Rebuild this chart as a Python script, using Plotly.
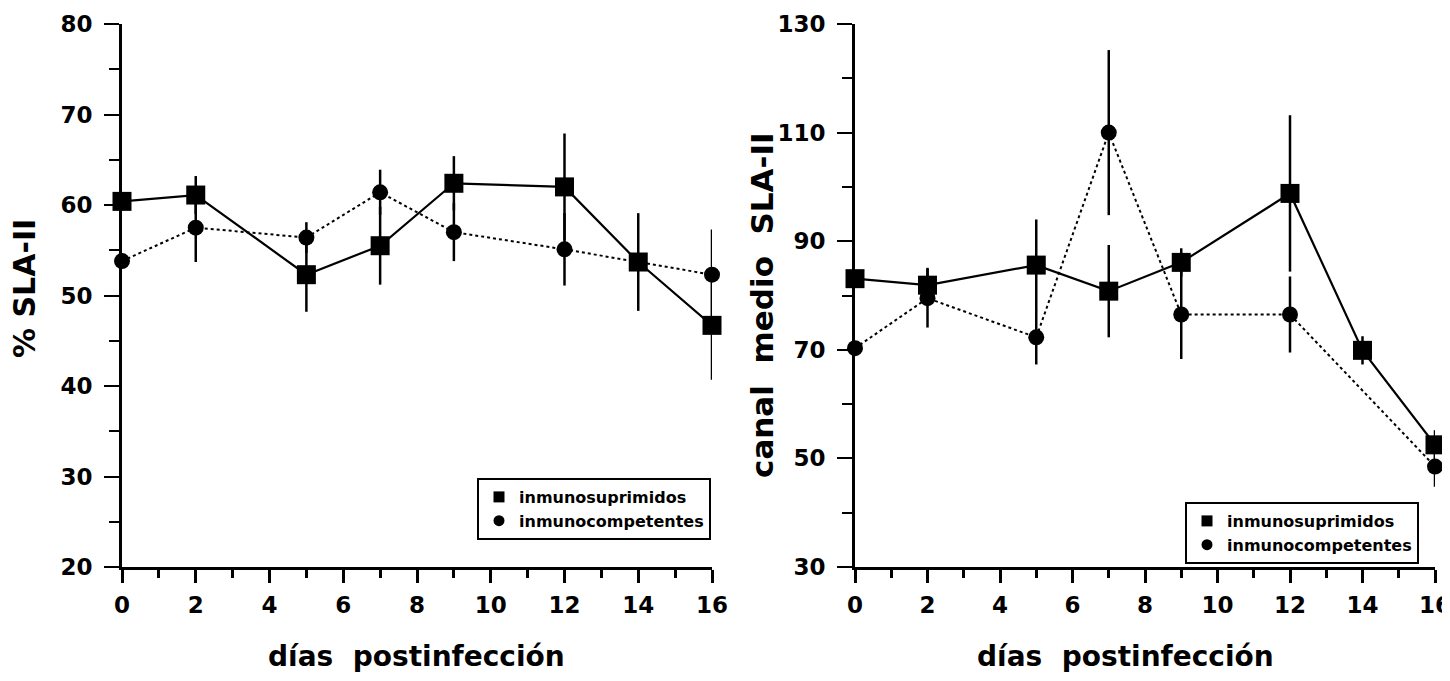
import plotly.graph_objects as go

days_sup = [0, 2, 5, 7, 9, 12, 14, 16]
days_comp = [0, 2, 5, 7, 9, 12, 16]

# left panel: % SLA-II
pct_sup = [60.4, 61.1, 52.3, 55.5, 62.4, 62.0, 53.7, 46.7]
pct_sup_err = [1.0, 2.1, 4.1, 4.3, 3.0, 5.9, 5.4, 6.0]
pct_comp = [53.8, 57.5, 56.4, 61.4, 57.0, 55.1, 52.3]
pct_comp_err = [0.8, 3.8, 1.7, 2.5, 3.2, 4.0, 5.0]

# right panel: canal medio SLA-II
can_sup = [83.1, 81.9, 85.6, 80.8, 86.1, 98.8, 69.9, 52.5]
can_sup_err = [1.0, 3.2, 8.4, 8.5, 2.6, 14.4, 2.6, 2.7]
can_comp = [70.3, 79.5, 72.3, 110.0, 76.5, 76.5, 48.5]
can_comp_err = [0.5, 5.4, 5.0, 15.2, 8.2, 7.0, 3.7]

x_ticks = [0, 2, 4, 6, 8, 10, 12, 14, 16]
names = ["inmunosuprimidos", "inmunocompetentes"]

# page body has an 8px margin: lay out in screen pixels, convert to figure pixels
OFF = 8
W, H = 1450 - OFF, 681 - 2 * OFF
FONT = "DejaVu Sans"

def px(sx):
    return (sx - OFF) / W

def py(sy):
    return 1 - (sy - OFF) / H

fig = go.Figure()

def add_pair(xa, ya, ysup, esup, ycomp, ecomp, leg):
    fig.add_trace(go.Scatter(
        x=days_sup, y=ysup, xaxis=xa, yaxis=ya, mode="lines+markers",
        line=dict(color="black", width=2.2),
        marker=dict(symbol="square", size=19, color="black"),
        error_y=dict(type="data", array=esup, color="black", thickness=2.5, width=0),
        cliponaxis=False, showlegend=False))
    fig.add_trace(go.Scatter(
        x=days_comp, y=ycomp, xaxis=xa, yaxis=ya, mode="lines+markers",
        line=dict(color="black", width=2, dash="dot"),
        marker=dict(symbol="circle", size=16, color="black"),
        error_y=dict(type="data", array=ecomp, color="black", thickness=2.5, width=0),
        cliponaxis=False, showlegend=False))
    # legend-only entries (marker only)
    fig.add_trace(go.Scatter(x=[None], y=[None], xaxis=xa, yaxis=ya, mode="markers",
                             marker=dict(symbol="square", size=11, color="black"),
                             name=names[0], legend=leg))
    fig.add_trace(go.Scatter(x=[None], y=[None], xaxis=xa, yaxis=ya, mode="markers",
                             marker=dict(symbol="circle", size=11, color="black"),
                             name=names[1], legend=leg))

add_pair("x", "y", pct_sup, pct_sup_err, pct_comp, pct_comp_err, "legend")
add_pair("x2", "y2", can_sup, can_sup_err, can_comp, can_comp_err, "legend2")

TICKFONT = dict(family=FONT, size=23, color="black", weight="bold")

xax = dict(range=[0, 16], tickvals=x_ticks, showline=True, linecolor="black", linewidth=3,
           ticks="outside", ticklen=13, tickwidth=3, tickcolor="black",
           minor=dict(dtick=1, ticks="outside", ticklen=8, tickwidth=2.5, tickcolor="black"),
           showgrid=False, zeroline=False, automargin=False, ticklabeloverflow="allow",
           tickfont=TICKFONT, ticklabelstandoff=2)
yax_common = dict(showline=True, linecolor="black", linewidth=3, ticks="outside", ticklen=15,
                  tickwidth=2, tickcolor="black", showgrid=False, zeroline=False, automargin=False,
                  tickfont=TICKFONT, ticklabelstandoff=7)

LEGFONT = dict(family=FONT, size=16, color="black", weight="bold")
ydom = [py(567), py(24)]

fig.update_layout(
    width=W, height=H, margin=dict(l=0, r=0, t=0, b=0),
    paper_bgcolor="white", plot_bgcolor="white",
    xaxis=dict(domain=[px(122), px(712)], anchor="y", **xax),
    yaxis=dict(domain=ydom, anchor="x", range=[20, 80], tickvals=[20, 30, 40, 50, 60, 70, 80],
               minor=dict(tickvals=[25, 35, 45, 55, 65, 75], ticks="outside", ticklen=10, tickwidth=2,
                          tickcolor="black"), **yax_common),
    xaxis2=dict(domain=[px(855), px(1435)], anchor="y2", **xax),
    yaxis2=dict(domain=ydom, anchor="x2", range=[30, 130], tickvals=[30, 50, 70, 90, 110, 130],
                minor=dict(tickvals=[40, 60, 80, 100, 120], ticks="outside", ticklen=10, tickwidth=2,
                           tickcolor="black"), **yax_common),
    legend=dict(x=px(477), y=py(478), xanchor="left", yanchor="top",
                bordercolor="black", borderwidth=2, bgcolor="white", font=LEGFONT,
                itemwidth=30, tracegroupgap=0),
    legend2=dict(x=px(1185), y=py(502), xanchor="left", yanchor="top",
                 bordercolor="black", borderwidth=2, bgcolor="white", font=LEGFONT,
                 itemwidth=30, tracegroupgap=0),
    annotations=[
        dict(text="% SLA-II", x=px(24), y=py(289), xref="paper", yref="paper", textangle=-90,
             xanchor="center", yanchor="middle", showarrow=False,
             font=dict(family=FONT, size=30, color="black", weight="bold")),
        dict(text="canal  medio  SLA-II", x=px(762), y=py(305), xref="paper", yref="paper",
             textangle=-90, xanchor="center", yanchor="middle", showarrow=False,
             font=dict(family=FONT, size=31, color="black", weight="bold")),
        dict(text="días  postinfección", x=px(416), y=py(656), xref="paper", yref="paper",
             xanchor="center", yanchor="middle", showarrow=False,
             font=dict(family=FONT, size=28, color="black", weight="bold")),
        dict(text="días  postinfección", x=px(1125), y=py(656), xref="paper", yref="paper",
             xanchor="center", yanchor="middle", showarrow=False,
             font=dict(family=FONT, size=28, color="black", weight="bold")),
    ],
)

fig.write_html("out.html")
